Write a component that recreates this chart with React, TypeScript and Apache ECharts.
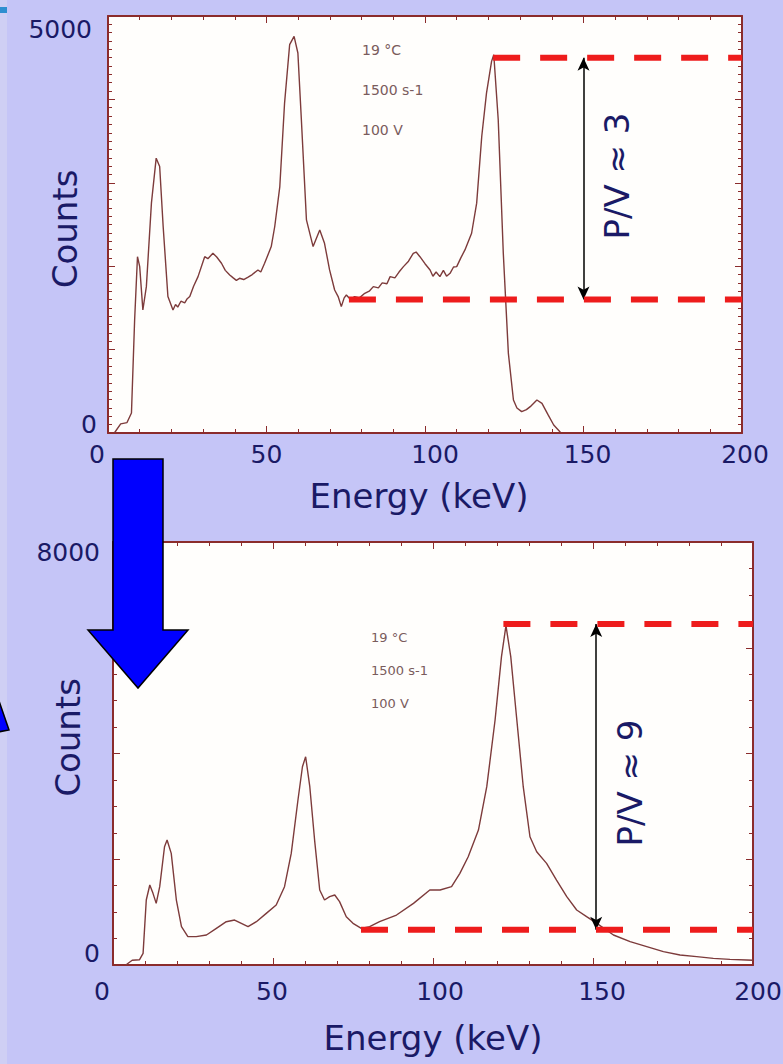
import React, { useEffect, useRef } from "react";
import * as echarts from "echarts";

// ---------- data ----------
// Upper spectrum (P/V ≈ 3)
const energyTop = [2, 4, 6, 7.4, 8.4, 9.3, 10, 11, 12.1, 13.7, 15.2, 16.3, 17.4, 18.9, 20.5, 21.3, 22, 23, 24.2, 25, 25.8, 27, 28.4, 30.5, 31.5, 33.1, 34.3, 35.8, 37, 38.4, 39.5, 40.5, 41.5, 42.8, 44.2, 45.5, 47.3, 48.2, 49.4, 51.5, 52.6, 54.2, 55.7, 57.3, 58.7, 59.9, 61, 62.6, 64.7, 66.8, 68.3, 69.9, 71.5, 72.6, 73.6, 74.5, 75.2, 76.5, 77.8, 79.3, 81, 82.4, 83.7, 85.3, 86.5, 88, 89, 90.5, 91.8, 93.2, 94.8, 96.3, 97.2, 98.4, 100, 101.6, 102.5, 103.5, 104.7, 105.8, 106.8, 107.9, 109, 110, 111.3, 112.6, 114.7, 116.3, 117.9, 119.4, 121, 121.7, 123.1, 124.7, 126.3, 127.9, 129, 130.5, 132, 133.2, 135.3, 136.9, 138.8, 140.6, 142.7];
const countsTop = [0, 110, 125, 240, 1356, 2114, 1995, 1475, 1755, 2756, 3295, 3196, 2476, 1636, 1475, 1540, 1510, 1580, 1560, 1610, 1636, 1760, 1875, 2114, 2090, 2155, 2110, 2035, 1950, 1895, 1860, 1830, 1855, 1840, 1870, 1900, 1955, 1930, 2035, 2235, 2476, 2955, 3956, 4656, 4756, 4556, 3756, 2556, 2235, 2435, 2275, 1955, 1715, 1636, 1515, 1620, 1655, 1600, 1636, 1620, 1675, 1700, 1755, 1740, 1800, 1790, 1875, 1860, 1930, 1995, 2060, 2155, 2170, 2114, 2030, 1955, 1880, 1930, 1875, 1950, 1880, 1915, 1990, 1995, 2100, 2195, 2395, 2756, 3555, 4075, 4456, 4536, 3756, 2155, 955, 396, 300, 256, 280, 316, 396, 356, 220, 96, 10];

// Lower spectrum (P/V ≈ 9)
const energyBottom = [4, 6, 8.3, 9.4, 10.4, 11.5, 12.5, 13.5, 14.6, 16.1, 16.9, 18.2, 19.8, 21.4, 23.4, 26, 29.2, 32.3, 35.4, 38, 40.1, 42.2, 44.8, 47.9, 51, 53.6, 55.7, 57.8, 59.2, 60.2, 61.5, 63, 64.6, 66.1, 67.7, 69.3, 70.8, 72.9, 75, 77.6, 80.2, 83.3, 88.6, 93.9, 99, 102.2, 105.8, 108.4, 111, 114.2, 116.8, 119.4, 121.4, 122.8, 124.3, 126.1, 128.2, 130.3, 132.4, 135.5, 138.6, 141.8, 144.9, 148, 151.2, 156.4, 161.6, 166.8, 172, 177.2, 182.4, 187.6, 192.8, 198, 200];
const countsBottom = [0, 90, 100, 220, 1229, 1513, 1355, 1166, 1481, 2237, 2363, 2111, 1229, 725, 536, 536, 567, 693, 819, 851, 788, 725, 819, 977, 1135, 1481, 2111, 3120, 3750, 3939, 3372, 2363, 1418, 1229, 1292, 1324, 1198, 914, 788, 693, 725, 819, 945, 1166, 1418, 1418, 1481, 1733, 2048, 2552, 3372, 4633, 5831, 6420, 5831, 4696, 3372, 2426, 2142, 1922, 1607, 1292, 1040, 914, 788, 567, 441, 347, 252, 189, 158, 126, 107, 95, 90];

// Peak / valley reference levels: [start energy, counts]
const peakTop = [121.5, 4500];
const valleyTop = [76, 1600];
const peakBottom = [122, 6450];
const valleyBottom = [77.5, 665];
const arrowEnergy = [150, 151];

const xTickLabels = [0, 50, 100, 150, 200];
const yTickLabelsTop = [0, 5000];
const yTickLabelsBottom = [0, 8000];
const pvLabels = ["P/V \u2248 3", "P/V \u2248 9"];
const conditions = ["19 \u00b0C", "1500 s-1", "100 V"];

// ---------- styling ----------
const NAVY = "#1a1a66";
const FRAME = "#8b2c2c";
const CURVE = "#7d3b3b";
const DASH = "#ee1c1c";
const FONT = "DejaVu Sans";
const BG = "#c5c5f7";

function xRich(offsets: Record<number, number>) {
  const rich: any = {};
  xTickLabels.forEach((v) => {
    const s = offsets[v] || 0;
    rich["x" + v] = {
      fontFamily: FONT,
      fontSize: 25,
      color: NAVY,
      padding: s >= 0 ? [0, 0, 0, 2 * s] : [0, -2 * s, 0, 0],
    };
  });
  return rich;
}

function buildX(gridIndex: number, offsets: Record<number, number>, margin: number, nameGap: number, namePad: number[]) {
  const common = {
    type: "value",
    gridIndex,
    min: 0,
    max: 200,
    interval: 50,
    splitLine: { show: false },
    axisLine: { show: true, onZero: false, lineStyle: { color: FRAME, width: 2 } },
    axisTick: { show: true, inside: true, length: 7, lineStyle: { color: FRAME, width: 1 } },
    minorTick: { show: true, splitNumber: 5, length: 4, lineStyle: { color: FRAME, width: 1 } },
  };
  return [
    {
      ...common,
      position: "bottom",
      axisLabel: {
        show: true,
        margin,
        hideOverlap: false,
        formatter: (v: number) => (xTickLabels.includes(v) ? `{x${v}|${v}}` : ""),
        rich: xRich(offsets),
      },
      name: "Energy (keV)",
      nameLocation: "middle",
      nameGap,
      nameMoveOverlap: false,
      nameTextStyle: { fontFamily: FONT, fontSize: 34, color: NAVY, padding: namePad },
    },
    { ...common, position: "top", axisLabel: { show: false } },
  ];
}

function buildY(
  gridIndex: number,
  max: number,
  interval: number,
  minorSplit: number,
  labels: number[],
  topPad: number[],
  botPad: number[],
  margin: number,
  nameGap: number,
  namePad: number[]
) {
  const common = {
    type: "value",
    gridIndex,
    min: 0,
    max,
    interval,
    splitLine: { show: false },
    axisLine: { show: true, onZero: false, lineStyle: { color: FRAME, width: 2 } },
    axisTick: { show: true, inside: true, length: 7, lineStyle: { color: FRAME, width: 1 } },
    minorTick: { show: true, splitNumber: minorSplit, length: 4, lineStyle: { color: FRAME, width: 1 } },
  };
  const txt = { fontFamily: FONT, fontSize: 25, color: NAVY };
  return [
    {
      ...common,
      position: "left",
      axisLabel: {
        show: true,
        margin,
        formatter: (v: number) => {
          if (v === labels[0]) return `{b|${v}}`;
          if (v === labels[1]) return `{t|${v}}`;
          return "";
        },
        rich: { t: { ...txt, padding: topPad }, b: { ...txt, padding: botPad } },
      },
      name: "Counts",
      nameLocation: "middle",
      nameGap,
      nameMoveOverlap: false,
      nameTextStyle: { fontFamily: FONT, fontSize: 34, color: NAVY, padding: namePad },
    },
    { ...common, position: "right", axisLabel: { show: false } },
  ];
}

function pairs(xs: number[], ys: number[]) {
  return xs.map((x, i) => [x, ys[i]]);
}

function dashSeries(idx: number, level: number[]) {
  return {
    type: "line",
    xAxisIndex: idx * 2,
    yAxisIndex: idx * 2,
    data: [
      [level[0], level[1]],
      [200, level[1]],
    ],
    symbol: "none",
    silent: true,
    z: 5,
    lineStyle: { color: DASH, width: 6, type: [27, 20] },
  };
}

function arrowSeries(idx: number, e: number, low: number, high: number) {
  return {
    type: "line",
    xAxisIndex: idx * 2,
    yAxisIndex: idx * 2,
    data: [],
    z: 6,
    markLine: {
      silent: true,
      symbol: ["arrow", "arrow"],
      symbolSize: [9, 13],
      label: { show: false },
      lineStyle: { color: "#000", width: 1.5, type: "solid" },
      data: [[{ coord: [e, low] }, { coord: [e, high] }]],
    },
  };
}

function condTexts(x: number, ys: number[], size: number) {
  return conditions.map((t, i) => ({
    type: "text",
    x,
    y: ys[i],
    z: 10,
    style: { text: t, fontFamily: FONT, fontSize: size, fill: "#7a5c5c", verticalAlign: "middle", align: "left" },
  }));
}

export default function App() {
  const ref = useRef<HTMLDivElement>(null);
  useEffect(() => {
    if (!ref.current) return;
    const chart = echarts.init(ref.current, undefined, { renderer: "svg" });
    const gridCommon = { show: true, backgroundColor: "#fffefc", borderWidth: 0, containLabel: false, outerBoundsMode: "none" };
    const option: any = {
      animation: false,
      backgroundColor: BG,
      grid: [
        { ...gridCommon, left: 108, top: 16, width: 634, height: 417 },
        { ...gridCommon, left: 113, top: 542, width: 640, height: 423 },
      ],
      xAxis: [
        ...buildX(0, { 0: -11, 100: 10, 150: 4, 200: 3 }, 9, 46, [0, 12, 0, 0]),
        ...buildX(1, { 0: -11, 50: -1, 100: 7, 150: 9, 200: 5 }, 14, 56, [0, 0, 0, 0]),
      ],
      yAxis: [
        ...buildY(0, 5000, 1000, 10, yTickLabelsTop, [26, 5, 0, 0], [0, 0, 18, 0], 11, 26, [0, 9, 0, 0]),
        ...buildY(1, 8000, 2000, 4, yTickLabelsBottom, [20, 0, 0, 0], [0, 0, 24, 0], 13, 28, [0, 0, 0, 32]),
      ],
      series: [
        {
          type: "line",
          xAxisIndex: 0,
          yAxisIndex: 0,
          data: pairs(energyTop, countsTop),
          symbol: "none",
          lineStyle: { color: CURVE, width: 1.4 },
          z: 3,
        },
        {
          type: "line",
          xAxisIndex: 2,
          yAxisIndex: 2,
          data: pairs(energyBottom, countsBottom),
          symbol: "none",
          lineStyle: { color: CURVE, width: 1.4 },
          z: 3,
        },
        dashSeries(0, peakTop),
        dashSeries(0, valleyTop),
        dashSeries(1, peakBottom),
        dashSeries(1, valleyBottom),
        arrowSeries(0, arrowEnergy[0], valleyTop[1], peakTop[1]),
        arrowSeries(1, arrowEnergy[1], valleyBottom[1], peakBottom[1]),
      ],
      graphic: [
        { type: "rect", shape: { x: 0, y: 0, width: 7, height: 1064 }, style: { fill: "#cfcff4" }, z: 1 },
        { type: "rect", shape: { x: 0, y: 7, width: 7, height: 6 }, style: { fill: "#2f8fd0" }, z: 2 },
        ...condTexts(362, [50, 90, 130], 14),
        ...condTexts(371, [637, 670, 703], 13),
        {
          type: "text",
          x: 617,
          y: 176,
          rotation: Math.PI / 2,
          z: 10,
          style: { text: pvLabels[0], fontFamily: FONT, fontSize: 34, fill: NAVY, align: "center", verticalAlign: "middle" },
        },
        {
          type: "text",
          x: 630,
          y: 783,
          rotation: Math.PI / 2,
          z: 10,
          style: { text: pvLabels[1], fontFamily: FONT, fontSize: 34, fill: NAVY, align: "center", verticalAlign: "middle" },
        },
        {
          type: "polygon",
          z: 20,
          shape: {
            points: [
              [113, 459],
              [163, 459],
              [163, 630],
              [188, 630],
              [138, 688],
              [88, 630],
              [113, 630],
            ],
          },
          style: { fill: "#0000ff", stroke: "#000", lineWidth: 1.5 },
        },
        {
          type: "polygon",
          z: 20,
          shape: { points: [[-2, 698], [9, 730], [-2, 732]] },
          style: { fill: "#0000ff", stroke: "#000", lineWidth: 1.5 },
        },
      ],
    };
    chart.setOption(option);
    return () => chart.dispose();
  }, []);
  return <div ref={ref} style={{ position: "fixed", left: 0, top: 0, width: 783, height: 1064 }} />;
}
